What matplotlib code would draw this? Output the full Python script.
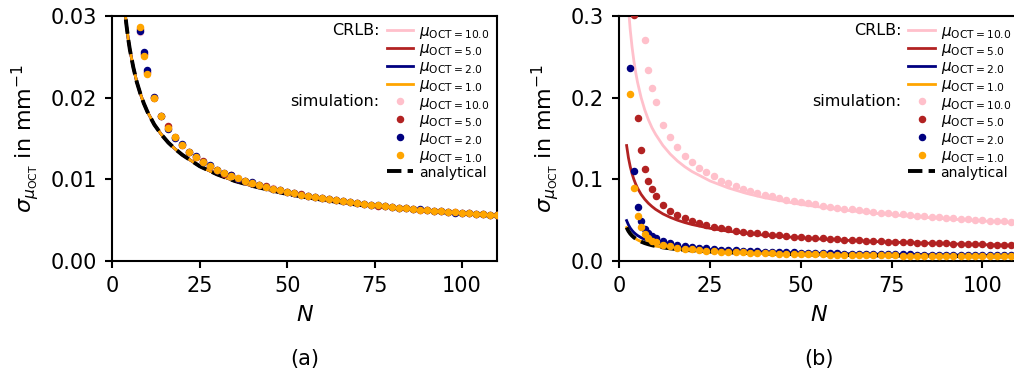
import matplotlib.pyplot as plt

# цвета для разных mu_OCT
mu_values = ['10.0', '5.0', '2.0', '1.0']
colors = ['#FFC0CB', '#B22222', '#000080', '#FFA500']

# сетка N для кривых CRLB / аналитики
N_line = [2, 2.5, 3, 3.5, 4, 4.5, 5, 6, 7, 8, 9, 10, 12, 14, 16, 18, 20,
          25, 30, 35, 40, 50, 60, 70, 80, 90, 100, 110]
# сетка N для точек моделирования
N_sim = [3, 4, 5, 6, 7, 8, 9, 10] + list(range(12, 111, 2))

# (a) все кривые CRLB совпадают
crlb_a = [0.0410, 0.0367, 0.0335, 0.0310, 0.0290, 0.0273, 0.0259, 0.0237, 0.0219, 0.0205,
          0.0193, 0.0183, 0.0167, 0.0155, 0.0145, 0.0137, 0.0130, 0.0116, 0.0106, 0.0098,
          0.0092, 0.0082, 0.0075, 0.0069, 0.0065, 0.0061, 0.0058, 0.0055]
analytical = [0.0410, 0.0367, 0.0335, 0.0310, 0.0290, 0.0273, 0.0259, 0.0237, 0.0219, 0.0205,
              0.0193, 0.0183, 0.0167, 0.0155, 0.0145, 0.0137, 0.0130, 0.0116, 0.0106, 0.0098,
              0.0092, 0.0082, 0.0075, 0.0069, 0.0065, 0.0061, 0.0058, 0.0055]

sim_a_10 = [0.204, 0.0905, 0.0540, 0.0404, 0.0330, 0.0281, 0.0253, 0.0230,
            0.0201, 0.0177, 0.0163, 0.0151, 0.0142, 0.0134, 0.0127, 0.0121, 0.0116, 0.0111,
            0.0108, 0.01044, 0.01013, 0.00981, 0.00957, 0.00930, 0.00907, 0.00888, 0.00865, 0.00849,
            0.00830, 0.00815, 0.00798, 0.00785, 0.00769, 0.00758, 0.00743, 0.00734, 0.00721, 0.00711,
            0.00699, 0.00690, 0.00679, 0.00672, 0.00661, 0.00654, 0.00645, 0.00639, 0.00629, 0.00624,
            0.00615, 0.00610, 0.00602, 0.00597, 0.00589, 0.00585, 0.00577, 0.00573, 0.00566, 0.00562]
sim_a_5 = [0.208, 0.0910, 0.0545, 0.0405, 0.0331, 0.0284, 0.0253, 0.0231,
           0.0200, 0.0178, 0.0165, 0.0152, 0.0142, 0.0133, 0.0127, 0.0122, 0.0116, 0.0112,
           0.0107, 0.01048, 0.01010, 0.00985, 0.00954, 0.00933, 0.00920, 0.00885, 0.00868, 0.00846,
           0.00830, 0.00816, 0.00797, 0.00786, 0.00768, 0.00758, 0.00743, 0.00734, 0.00720, 0.00711,
           0.00699, 0.00691, 0.00679, 0.00672, 0.00660, 0.00654, 0.00645, 0.00639, 0.00629, 0.00624,
           0.00615, 0.00610, 0.00602, 0.00597, 0.00589, 0.00585, 0.00577, 0.00573, 0.00566, 0.00562]
sim_a_2 = [0.215, 0.0935, 0.0560, 0.0410, 0.0333, 0.0282, 0.0256, 0.0234,
           0.0201, 0.0177, 0.0162, 0.0151, 0.0143, 0.0134, 0.0128, 0.0121, 0.0117, 0.0111,
           0.0108, 0.01052, 0.01010, 0.00978, 0.00970, 0.00928, 0.00910, 0.00884, 0.00869, 0.00845,
           0.00833, 0.00811, 0.00801, 0.00780, 0.00772, 0.00760, 0.00741, 0.00735, 0.00720, 0.00713,
           0.00702, 0.00688, 0.00683, 0.00668, 0.00664, 0.00651, 0.00648, 0.00636, 0.00632, 0.00621,
           0.00618, 0.00607, 0.00605, 0.00594, 0.00592, 0.00582, 0.00580, 0.00570, 0.00569, 0.00560]
sim_a_1 = [0.201, 0.0899, 0.0532, 0.0403, 0.0329, 0.0286, 0.0251, 0.0229,
           0.0200, 0.0178, 0.0163, 0.0152, 0.0142, 0.0134, 0.0127, 0.0121, 0.0116, 0.0112,
           0.0108, 0.01045, 0.01012, 0.00982, 0.00956, 0.00931, 0.00908, 0.00887, 0.00866, 0.00848,
           0.00831, 0.00814, 0.00799, 0.00784, 0.0077, 0.00757, 0.00744, 0.00733, 0.00722, 0.0071,
           0.007, 0.0069, 0.0068, 0.00671, 0.00662, 0.00653, 0.00646, 0.00638, 0.0063, 0.00623,
           0.00616, 0.00609, 0.00603, 0.00596, 0.0059, 0.00584, 0.00578, 0.00572, 0.00567, 0.00561]

# (b) кривые CRLB
crlb_b_10 = [0.3465, 0.310, 0.283, 0.262, 0.245, 0.231, 0.219, 0.200, 0.185, 0.173,
             0.163, 0.155, 0.1415, 0.131, 0.1225, 0.1155, 0.1096, 0.098, 0.0895, 0.0828,
             0.0775, 0.0693, 0.0633, 0.0586, 0.0548, 0.0517, 0.049, 0.0467]
crlb_b_5 = [0.1414, 0.1265, 0.1155, 0.1069, 0.1, 0.0943, 0.0894, 0.0816, 0.0756, 0.0707,
            0.0667, 0.0632, 0.0577, 0.0535, 0.05, 0.0471, 0.0447, 0.04, 0.0365, 0.0338,
            0.0316, 0.0283, 0.0258, 0.0239, 0.0224, 0.0211, 0.02, 0.0191]
crlb_b_2 = [0.0495, 0.0443, 0.0404, 0.0374, 0.035, 0.033, 0.0313, 0.0286, 0.0265, 0.0247,
            0.0233, 0.0221, 0.0202, 0.0187, 0.0175, 0.0165, 0.0157, 0.014, 0.0128, 0.0118,
            0.0111, 0.0099, 0.009, 0.0084, 0.0078, 0.0074, 0.007, 0.0067]
crlb_b_1 = [0.0410, 0.0367, 0.0335, 0.0310, 0.0290, 0.0273, 0.0259, 0.0237, 0.0219, 0.0205,
            0.0193, 0.0183, 0.0167, 0.0155, 0.0145, 0.0137, 0.0130, 0.0116, 0.0106, 0.0098,
            0.0092, 0.0082, 0.0075, 0.0069, 0.0065, 0.0061, 0.0058, 0.0055]

# (b) точки моделирования
sim_b_10 = [1.73, 0.775, 0.458, 0.347, 0.270, 0.234, 0.212, 0.195,
            0.167, 0.152, 0.140, 0.129, 0.121, 0.114, 0.1095, 0.1041, 0.0985, 0.0951,
            0.0917, 0.0887, 0.0859, 0.0834, 0.0811, 0.0790, 0.0771, 0.0753, 0.0736, 0.0720,
            0.0706, 0.0692, 0.0679, 0.0665, 0.0654, 0.0642, 0.0632, 0.0622, 0.0612, 0.0603,
            0.0594, 0.0586, 0.0578, 0.0570, 0.0562, 0.0555, 0.0548, 0.0542, 0.0535, 0.0529,
            0.0523, 0.0517, 0.0512, 0.0506, 0.0501, 0.0496, 0.0491, 0.0486, 0.0481, 0.0477]
sim_b_5 = [0.693, 0.301, 0.175, 0.136, 0.113, 0.0976, 0.088, 0.0797,
           0.069, 0.0618, 0.0566, 0.0521, 0.049, 0.0463, 0.0439, 0.0419, 0.0401, 0.0386,
           0.0372, 0.0360, 0.0349, 0.0339, 0.0330, 0.0321, 0.0313, 0.0306, 0.0299, 0.0292,
           0.0287, 0.0281, 0.0276, 0.0270, 0.0265, 0.0261, 0.0257, 0.0253, 0.0249, 0.0245,
           0.0241, 0.0238, 0.0235, 0.0232, 0.0228, 0.0226, 0.0223, 0.0220, 0.0217, 0.0215,
           0.0212, 0.0210, 0.0208, 0.0205, 0.0203, 0.0201, 0.0199, 0.0197, 0.0196, 0.0194]
sim_b_2 = [0.236, 0.110, 0.066, 0.049, 0.0397, 0.0344, 0.0308, 0.0279,
           0.02415, 0.02152, 0.01969, 0.01831, 0.01714, 0.01619, 0.01536, 0.01466, 0.01405, 0.01351,
           0.01303, 0.0126, 0.01222, 0.01185, 0.01153, 0.01123, 0.01096, 0.0107, 0.01045, 0.01024,
           0.01003, 0.00983, 0.00964, 0.00946, 0.00929, 0.00913, 0.00898, 0.00884, 0.0087, 0.00857,
           0.00845, 0.00832, 0.00821, 0.00809, 0.00799, 0.00789, 0.00779, 0.0077, 0.0076, 0.00752,
           0.00743, 0.00735, 0.00728, 0.00719, 0.00712, 0.00705, 0.00698, 0.00691, 0.00684, 0.00677]
sim_b_1 = [0.204, 0.0894, 0.0556, 0.0412, 0.0335, 0.0286, 0.0251, 0.0229,
           0.0200, 0.0178, 0.0163, 0.0152, 0.0142, 0.0134, 0.0127, 0.0121, 0.0116, 0.0112,
           0.0108, 0.01045, 0.01012, 0.00982, 0.00956, 0.00931, 0.00908, 0.00887, 0.00866, 0.00848,
           0.00831, 0.00814, 0.00799, 0.00784, 0.0077, 0.00757, 0.00744, 0.00733, 0.00722, 0.0071,
           0.007, 0.0069, 0.0068, 0.00671, 0.00662, 0.00653, 0.00646, 0.00638, 0.0063, 0.00623,
           0.00616, 0.00609, 0.00603, 0.00596, 0.0059, 0.00584, 0.00578, 0.00572, 0.00567, 0.00561]

fig = plt.figure(figsize=(10.14, 3.79), dpi=100)
ax_a = fig.add_axes([0.1108, 0.3113, 0.3793, 0.6465])
ax_b = fig.add_axes([0.6108, 0.3113, 0.3938, 0.6465])


def draw_panel(ax, crlb, sims, ylim, yticks, letter):
    lines = []
    for y, c in zip(crlb, colors):
        l, = ax.plot(N_line, y, color=c, lw=2, zorder=2)
        lines.append(l)
    an, = ax.plot(N_line, analytical, color='black', ls='--', lw=2.8, zorder=3)
    dots = []
    for y, c in zip(sims, colors):
        d, = ax.plot(N_sim, y, 'o', color=c, ms=4.4, ls='none', zorder=4)
        dots.append(d)

    ax.set_xlim(0, 110)
    ax.set_ylim(*ylim)
    ax.set_yticks(yticks)
    ax.set_xticks([0, 25, 50, 75, 100])
    ax.tick_params(labelsize=15, length=5, width=1.5, pad=6)
    for s in ax.spines.values():
        s.set_linewidth(1.5)
    ax.set_xlabel(r'$N$', fontsize=16, labelpad=6)
    ax.set_ylabel(r'$\sigma_{\mu_\mathrm{OCT}}$ in mm$^{-1}$', fontsize=16, labelpad=7)

    labels = [r'$\mu_{\mathrm{OCT} = ' + m + '}$' for m in mu_values]
    leg = ax.legend(lines + dots + [an], labels + labels + ['analytical'],
                    loc='upper right', frameon=False, numpoints=1,
                    handlelength=1.75, handletextpad=0.35, labelspacing=0.05,
                    borderaxespad=0.15, borderpad=0.35, prop={'size': 11})
    leg.get_texts()[-1].set_fontsize(10)

    # подписи CRLB: и simulation: слева от легенды
    fig.canvas.draw()
    r = fig.canvas.get_renderer()
    hb = leg.legend_handles[0].get_window_extent(r)
    inv = ax.transAxes.inverted()
    for i, txt in [(0, 'CRLB:'), (4, 'simulation:')]:
        tb = leg.get_texts()[i].get_window_extent(r)
        x, y = inv.transform((hb.x0 - 7, (tb.y0 + tb.y1) / 2 + 2))
        ax.text(x, y, txt, transform=ax.transAxes, ha='right', va='center', fontsize=11.5)

    bb = ax.get_position()
    fig.text((bb.x0 + bb.x1) / 2, 0.053, letter, ha='center', va='center', fontsize=15)


draw_panel(ax_a, [crlb_a, crlb_a, crlb_a, crlb_a], [sim_a_10, sim_a_5, sim_a_2, sim_a_1],
           (0, 0.03), [0, 0.01, 0.02, 0.03], '(a)')
draw_panel(ax_b, [crlb_b_10, crlb_b_5, crlb_b_2, crlb_b_1], [sim_b_10, sim_b_5, sim_b_2, sim_b_1],
           (0, 0.3), [0, 0.1, 0.2, 0.3], '(b)')

fig.savefig('out.png', dpi=100)
